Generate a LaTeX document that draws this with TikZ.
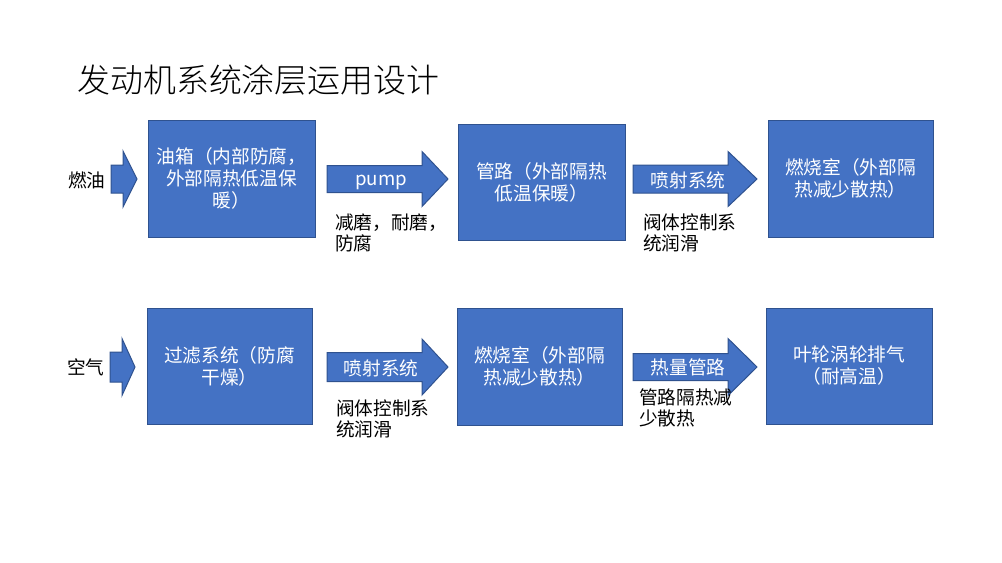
\documentclass[tikz,border=0pt]{standalone}
\usepackage{fontspec}
\setmainfont{Noto Sans CJK SC}
\newfontfamily\titlefont{Noto Sans CJK SC}[UprightFont={* Light}]
\definecolor{blu}{HTML}{4472C4}
\definecolor{bdr}{HTML}{2F528F}
\tikzset{
  boxnode/.style={draw=bdr, fill=blu, line width=0.75pt, text=white, align=center, inner sep=0pt,
    font=\fontsize{14}{16.5}\selectfont},
  arrshape/.style={draw=bdr, fill=blu, line width=0.75pt},
  arrtext/.style={text=white, inner sep=0pt, font=\fontsize{14}{16.5}\selectfont},
  sidetext/.style={text=black, inner sep=0pt, align=left, anchor=west, font=\fontsize{14}{16}\selectfont},
}
\newcommand{\mybox}[6]{%
  \node[boxnode, minimum width={(#4-#2)*0.75pt}, minimum height={(#5-#3)*0.75pt}] (#1) at ({(#2+#4)/2},{(#3+#5)/2}) {#6};}
% name, x1, headx, tip, yc, shaft half, head half
\newcommand{\myarrow}[7]{%
  \draw[arrshape] (#2,#5-#6) -- (#3,#5-#6) -- (#3,#5-#7) -- (#4,#5) -- (#3,#5+#7) -- (#3,#5+#6) -- (#2,#5+#6) -- cycle;
  \coordinate (#1) at ({(#2+#4)/2},#5);}
\begin{document}
\begin{tikzpicture}[x=0.75pt,y=-0.75pt]
\useasboundingbox (0,0) rectangle (1002,562);
\node[anchor=west, inner sep=0pt, font=\titlefont\fontsize{24.7}{28}\selectfont] (title) at (77,80) {发动机系统涂层运用设计};

% row 1
\node[sidetext] (fuel) at (68,180) {燃油};
\myarrow{a1}{111}{123}{137}{179}{14}{28}
\mybox{b1}{148}{120}{315}{237}{油箱（内部防腐，\\外部隔热低温保\\暖）}
\myarrow{a2}{327}{422}{448}{179}{13.5}{27.5}
\node[arrtext] (t2) at (381,182) {pump};
\node[sidetext] (l2) at (335,233) {减磨，耐磨，\\防腐};
\mybox{b2}{458}{124}{625}{240}{管路（外部隔热\\低温保暖）}
\myarrow{a3}{633}{728}{757}{179}{14}{27.5}
\node[arrtext] (t3) at (688,180) {喷射系统};
\node[sidetext] (l3) at (643,233) {阀体控制系\\统润滑};
\mybox{b3}{768}{120}{933}{237}{燃烧室（外部隔\\热减少散热）}

% row 2
\node[sidetext] (air) at (67,367) {空气};
\myarrow{a4}{110}{122}{135}{367}{15}{28.5}
\mybox{b4}{147}{308}{312}{424}{过滤系统（防腐\\干燥）}
\myarrow{a5}{327}{422}{448}{367}{14.5}{28}
\node[arrtext] (t5) at (381,368) {喷射系统};
\node[sidetext] (l5) at (336,419) {阀体控制系\\统润滑};
\mybox{b5}{457}{308}{622}{425}{燃烧室（外部隔\\热减少散热）}
\myarrow{a6}{633}{728}{757}{367}{13.5}{28.5}
\node[arrtext] (t6) at (688,367) {热量管路};
\node[sidetext] (l6) at (639,408) {管路隔热减\\少散热};
\mybox{b6}{766}{308}{932}{424}{叶轮涡轮排气\\（耐高温）}
\end{tikzpicture}
\end{document}
